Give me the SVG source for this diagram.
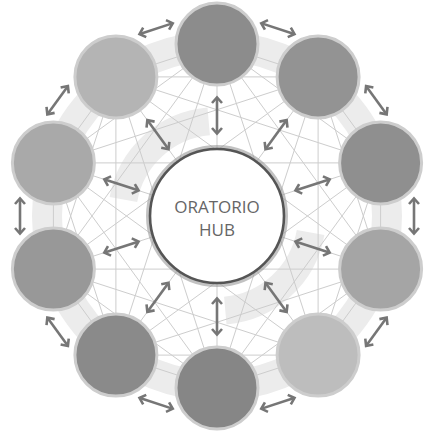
<svg xmlns="http://www.w3.org/2000/svg" width="425" height="432" viewBox="0 0 425 432">
  <style>
    .mesh { fill: none; stroke: #cdcdcd; stroke-width: 1; }
    .band { fill: none; stroke: #ececec; }
    .arrow { stroke: #767676; stroke-width: 2.6; fill: none; marker-start: url(#head); marker-end: url(#head); }
    .node { stroke: #cdcdcd; stroke-width: 3; }
    .label { font-family: "Open Sans", "Liberation Sans", sans-serif; font-size: 17px; fill: #666666; text-anchor: middle; }
  </style>
  <defs>
    <marker id="head" viewBox="-7 -7 14 14" markerWidth="14" markerHeight="14" refX="0" refY="0" markerUnits="userSpaceOnUse" orient="auto-start-reverse" overflow="visible">
      <path d="M-5,-5 L0.5,0 L-5,5" fill="none" stroke="#767676" stroke-width="2.6" stroke-linejoin="miter"/>
    </marker>
  </defs>
  <rect width="425" height="432" fill="#ffffff"/>

  <g id="background">
    <circle class="band" cx="217" cy="216" r="170" stroke-width="30"/>
    <path class="band" stroke-width="28" stroke="#f2f2f2" d="M123.4 199.5 A95 95 0 0 1 208.7 121.4"/>
    <path class="band" stroke-width="28" stroke="#f2f2f2" d="M310.6 232.5 A95 95 0 0 1 225.3 310.6"/>
  </g>

  <g id="connectors">
    <path class="mesh" d="M217 44L318.1 76.9M217 44L380.6 162.9M217 44L380.6 269.1M217 44L318.1 355.1M217 44L217 388M217 44L115.9 355.1M217 44L53.4 269.1M217 44L53.4 162.9M217 44L115.9 76.9
      M318.1 76.9L380.6 162.9M318.1 76.9L380.6 269.1M318.1 76.9L318.1 355.1M318.1 76.9L217 388M318.1 76.9L115.9 355.1M318.1 76.9L53.4 269.1M318.1 76.9L53.4 162.9M318.1 76.9L115.9 76.9
      M380.6 162.9L380.6 269.1M380.6 162.9L318.1 355.1M380.6 162.9L217 388M380.6 162.9L115.9 355.1M380.6 162.9L53.4 269.1M380.6 162.9L53.4 162.9M380.6 162.9L115.9 76.9
      M380.6 269.1L318.1 355.1M380.6 269.1L217 388M380.6 269.1L115.9 355.1M380.6 269.1L53.4 269.1M380.6 269.1L53.4 162.9M380.6 269.1L115.9 76.9
      M318.1 355.1L217 388M318.1 355.1L115.9 355.1M318.1 355.1L53.4 269.1M318.1 355.1L53.4 162.9M318.1 355.1L115.9 76.9
      M217 388L115.9 355.1M217 388L53.4 269.1M217 388L53.4 162.9M217 388L115.9 76.9
      M115.9 355.1L53.4 269.1M115.9 355.1L53.4 162.9M115.9 355.1L115.9 76.9
      M53.4 269.1L53.4 162.9M53.4 269.1L115.9 76.9
      M53.4 162.9L115.9 76.9"/>

    <g id="ring-arrows">
      <line class="arrow" x1="200" y1="19" x2="234" y2="19" transform="rotate(18 217 216)"/>
      <line class="arrow" x1="200" y1="19" x2="234" y2="19" transform="rotate(54 217 216)"/>
      <line class="arrow" x1="200" y1="19" x2="234" y2="19" transform="rotate(90 217 216)"/>
      <line class="arrow" x1="200" y1="19" x2="234" y2="19" transform="rotate(126 217 216)"/>
      <line class="arrow" x1="200" y1="19" x2="234" y2="19" transform="rotate(162 217 216)"/>
      <line class="arrow" x1="200" y1="19" x2="234" y2="19" transform="rotate(198 217 216)"/>
      <line class="arrow" x1="200" y1="19" x2="234" y2="19" transform="rotate(234 217 216)"/>
      <line class="arrow" x1="200" y1="19" x2="234" y2="19" transform="rotate(270 217 216)"/>
      <line class="arrow" x1="200" y1="19" x2="234" y2="19" transform="rotate(306 217 216)"/>
      <line class="arrow" x1="200" y1="19" x2="234" y2="19" transform="rotate(342 217 216)"/>
    </g>
    <g id="hub-arrows">
      <line class="arrow" x1="217" y1="98" x2="217" y2="133"/>
      <line class="arrow" x1="217" y1="98" x2="217" y2="133" transform="rotate(36 217 216)"/>
      <line class="arrow" x1="217" y1="98" x2="217" y2="133" transform="rotate(72 217 216)"/>
      <line class="arrow" x1="217" y1="98" x2="217" y2="133" transform="rotate(108 217 216)"/>
      <line class="arrow" x1="217" y1="98" x2="217" y2="133" transform="rotate(144 217 216)"/>
      <line class="arrow" x1="217" y1="98" x2="217" y2="133" transform="rotate(180 217 216)"/>
      <line class="arrow" x1="217" y1="98" x2="217" y2="133" transform="rotate(216 217 216)"/>
      <line class="arrow" x1="217" y1="98" x2="217" y2="133" transform="rotate(252 217 216)"/>
      <line class="arrow" x1="217" y1="98" x2="217" y2="133" transform="rotate(288 217 216)"/>
      <line class="arrow" x1="217" y1="98" x2="217" y2="133" transform="rotate(324 217 216)"/>
    </g>
  </g>

  <g id="node-1"><circle class="node" cx="217" cy="44" r="41" fill="#8c8c8c"/></g>
  <g id="node-2"><circle class="node" cx="318.1" cy="76.9" r="41" fill="#939393"/></g>
  <g id="node-3"><circle class="node" cx="380.6" cy="162.9" r="41" fill="#8f8f8f"/></g>
  <g id="node-4"><circle class="node" cx="380.6" cy="269.1" r="41" fill="#a5a5a5"/></g>
  <g id="node-5"><circle class="node" cx="318.1" cy="355.1" r="41" fill="#bdbdbd"/></g>
  <g id="node-6"><circle class="node" cx="217" cy="388" r="41" fill="#868686"/></g>
  <g id="node-7"><circle class="node" cx="115.9" cy="355.1" r="41" fill="#8a8a8a"/></g>
  <g id="node-8"><circle class="node" cx="53.4" cy="269.1" r="41" fill="#989898"/></g>
  <g id="node-9"><circle class="node" cx="53.4" cy="162.9" r="41" fill="#a9a9a9"/></g>
  <g id="node-10"><circle class="node" cx="115.9" cy="76.9" r="41" fill="#b4b4b4"/></g>

  <g id="hub">
    <circle cx="217" cy="216" r="68" fill="none" stroke="#9a9a9a" stroke-width="6" opacity="0.6"/>
    <circle cx="217" cy="216" r="67" fill="#ffffff" stroke="#555555" stroke-width="2.6"/>
    <text class="label" x="217" y="213">ORATORIO</text>
    <text class="label" x="217" y="236">HUB</text>
  </g>
</svg>
